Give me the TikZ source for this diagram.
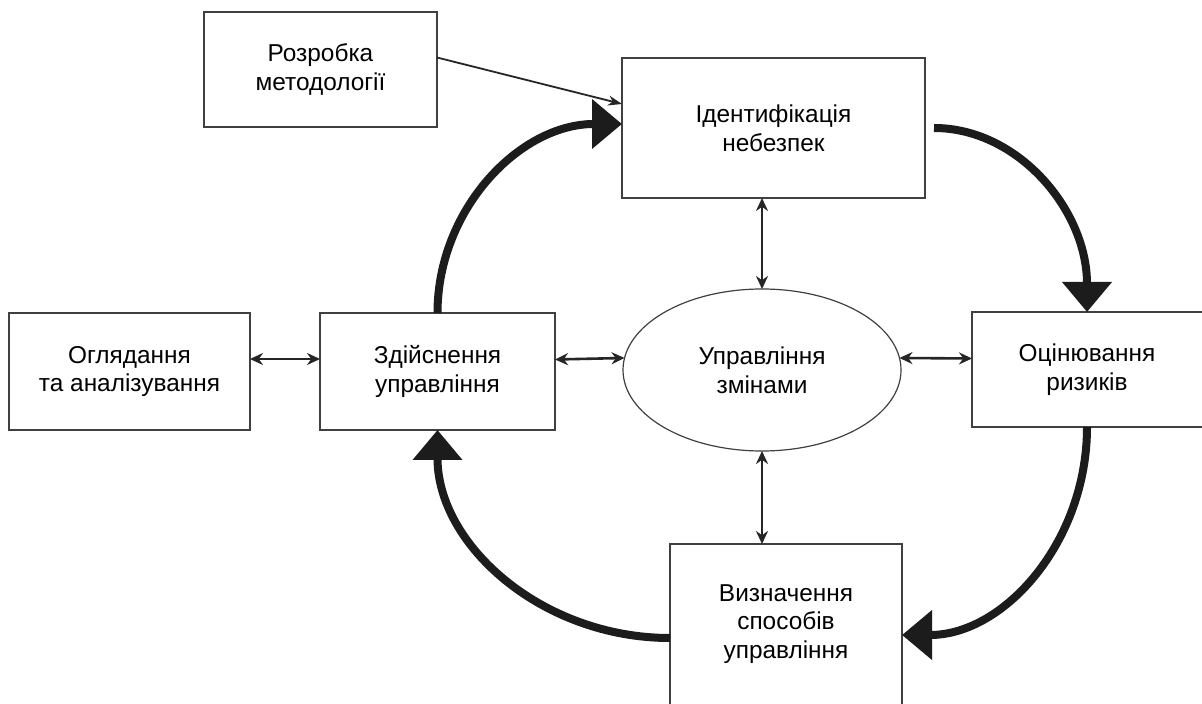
\documentclass[tikz,border=0pt]{standalone}
\usepackage{fontspec}
\setmainfont{Liberation Sans}
\usetikzlibrary{arrows.meta,shapes.geometric}
\definecolor{boxgray}{HTML}{404040}
\definecolor{flowblack}{HTML}{1C1C1C}
\definecolor{linkgray}{HTML}{262626}
\begin{document}
\begin{tikzpicture}[x=0.5pt,y=-0.5pt,
  rbox/.style={draw=boxgray,line width=1pt,inner sep=0pt,outer sep=0pt,align=center,font=\fontsize{12.2}{14.3}\selectfont},
  openbox/.style={rbox,draw=none},
  flowarrow/.style={line width=4pt,draw=flowblack,-{Triangle[length=15pt,width=24pt]}},
  duallink/.style={line width=1.3pt,draw=linkgray,{Stealth[length=6.5pt,width=6pt]}-{Stealth[length=6.5pt,width=6pt]}},
  feedarrow/.style={line width=0.9pt,draw=linkgray,-{Stealth[length=7pt,width=5pt]}}]
\fill[white] (0,0) rectangle (1202,704);
\useasboundingbox (0,0) rectangle (1202,704);

\node[rbox,minimum width=116.5pt,minimum height=57.5pt] (razr) at (320.5,69.5) {Розробка\\методології};
\node[rbox,minimum width=151.5pt,minimum height=70pt] (ident) at (773.5,128) {Ідентифікація\\небезпек};
\node[rbox,minimum width=120.5pt,minimum height=58.5pt] (ogl) at (129.5,371.5) {Оглядання\\та аналізування};
\node[rbox,minimum width=117.5pt,minimum height=58.5pt] (zdis) at (437.5,371.5) {Здійснення\\управління};
\node[ellipse,draw=boxgray,line width=0.6pt,minimum width=139pt,minimum height=81pt,inner sep=0pt,outer sep=0pt,align=center,font=\fontsize{12.2}{14.3}\selectfont] (ell) at (762,370) {Управління\\змінами};
\node[openbox,minimum width=115pt,minimum height=57.5pt] (ocin) at (1087,369.5) {Оцінювання\\ризиків};
\draw[boxgray,line width=1pt] ([xshift=10pt]ocin.north east) -- (ocin.north west) -- (ocin.south west) -- ([xshift=10pt]ocin.south east);
\node[openbox,minimum width=116pt,minimum height=80pt] (vyzn) at (786,624) {Визначення\\способів\\управління};
\draw[boxgray,line width=1pt] ([yshift=-10pt]vyzn.south west) -- (vyzn.north west) -- (vyzn.north east) -- ([yshift=-10pt]vyzn.south east);

% main cycle
\draw[flowarrow] (zdis.north) .. controls +(0,-104) and +(-102,0) .. ([yshift=2pt]ident.west);
\draw[flowarrow] ([xshift=4.5pt]ident.east) .. controls +(84,0) and +(0,-102) .. (ocin.north);
\draw[flowarrow] (ocin.south) .. controls +(0,115) and +(102,0) .. ([yshift=-5.5pt]vyzn.east);
\draw[flowarrow] ([yshift=-7pt]vyzn.west) .. controls +(-128,0) and +(0,115) .. (zdis.south);

% methodology input
\draw[feedarrow] ([yshift=6pt]razr.east) -- ([yshift=12pt]ident.west);

% two-way links
\draw[duallink] ([yshift=6.25pt]ogl.east) -- ([yshift=6.25pt]zdis.west);
\draw[duallink] ([yshift=6pt]zdis.east) -- (ell.175);
\draw[duallink] (ell.5) -- ([yshift=5.5pt]ocin.west);
\draw[duallink] (ell.north |- ident.south) -- (ell.north);
\draw[duallink] (ell.south) -- (ell.south |- vyzn.north);
\end{tikzpicture}
\end{document}
